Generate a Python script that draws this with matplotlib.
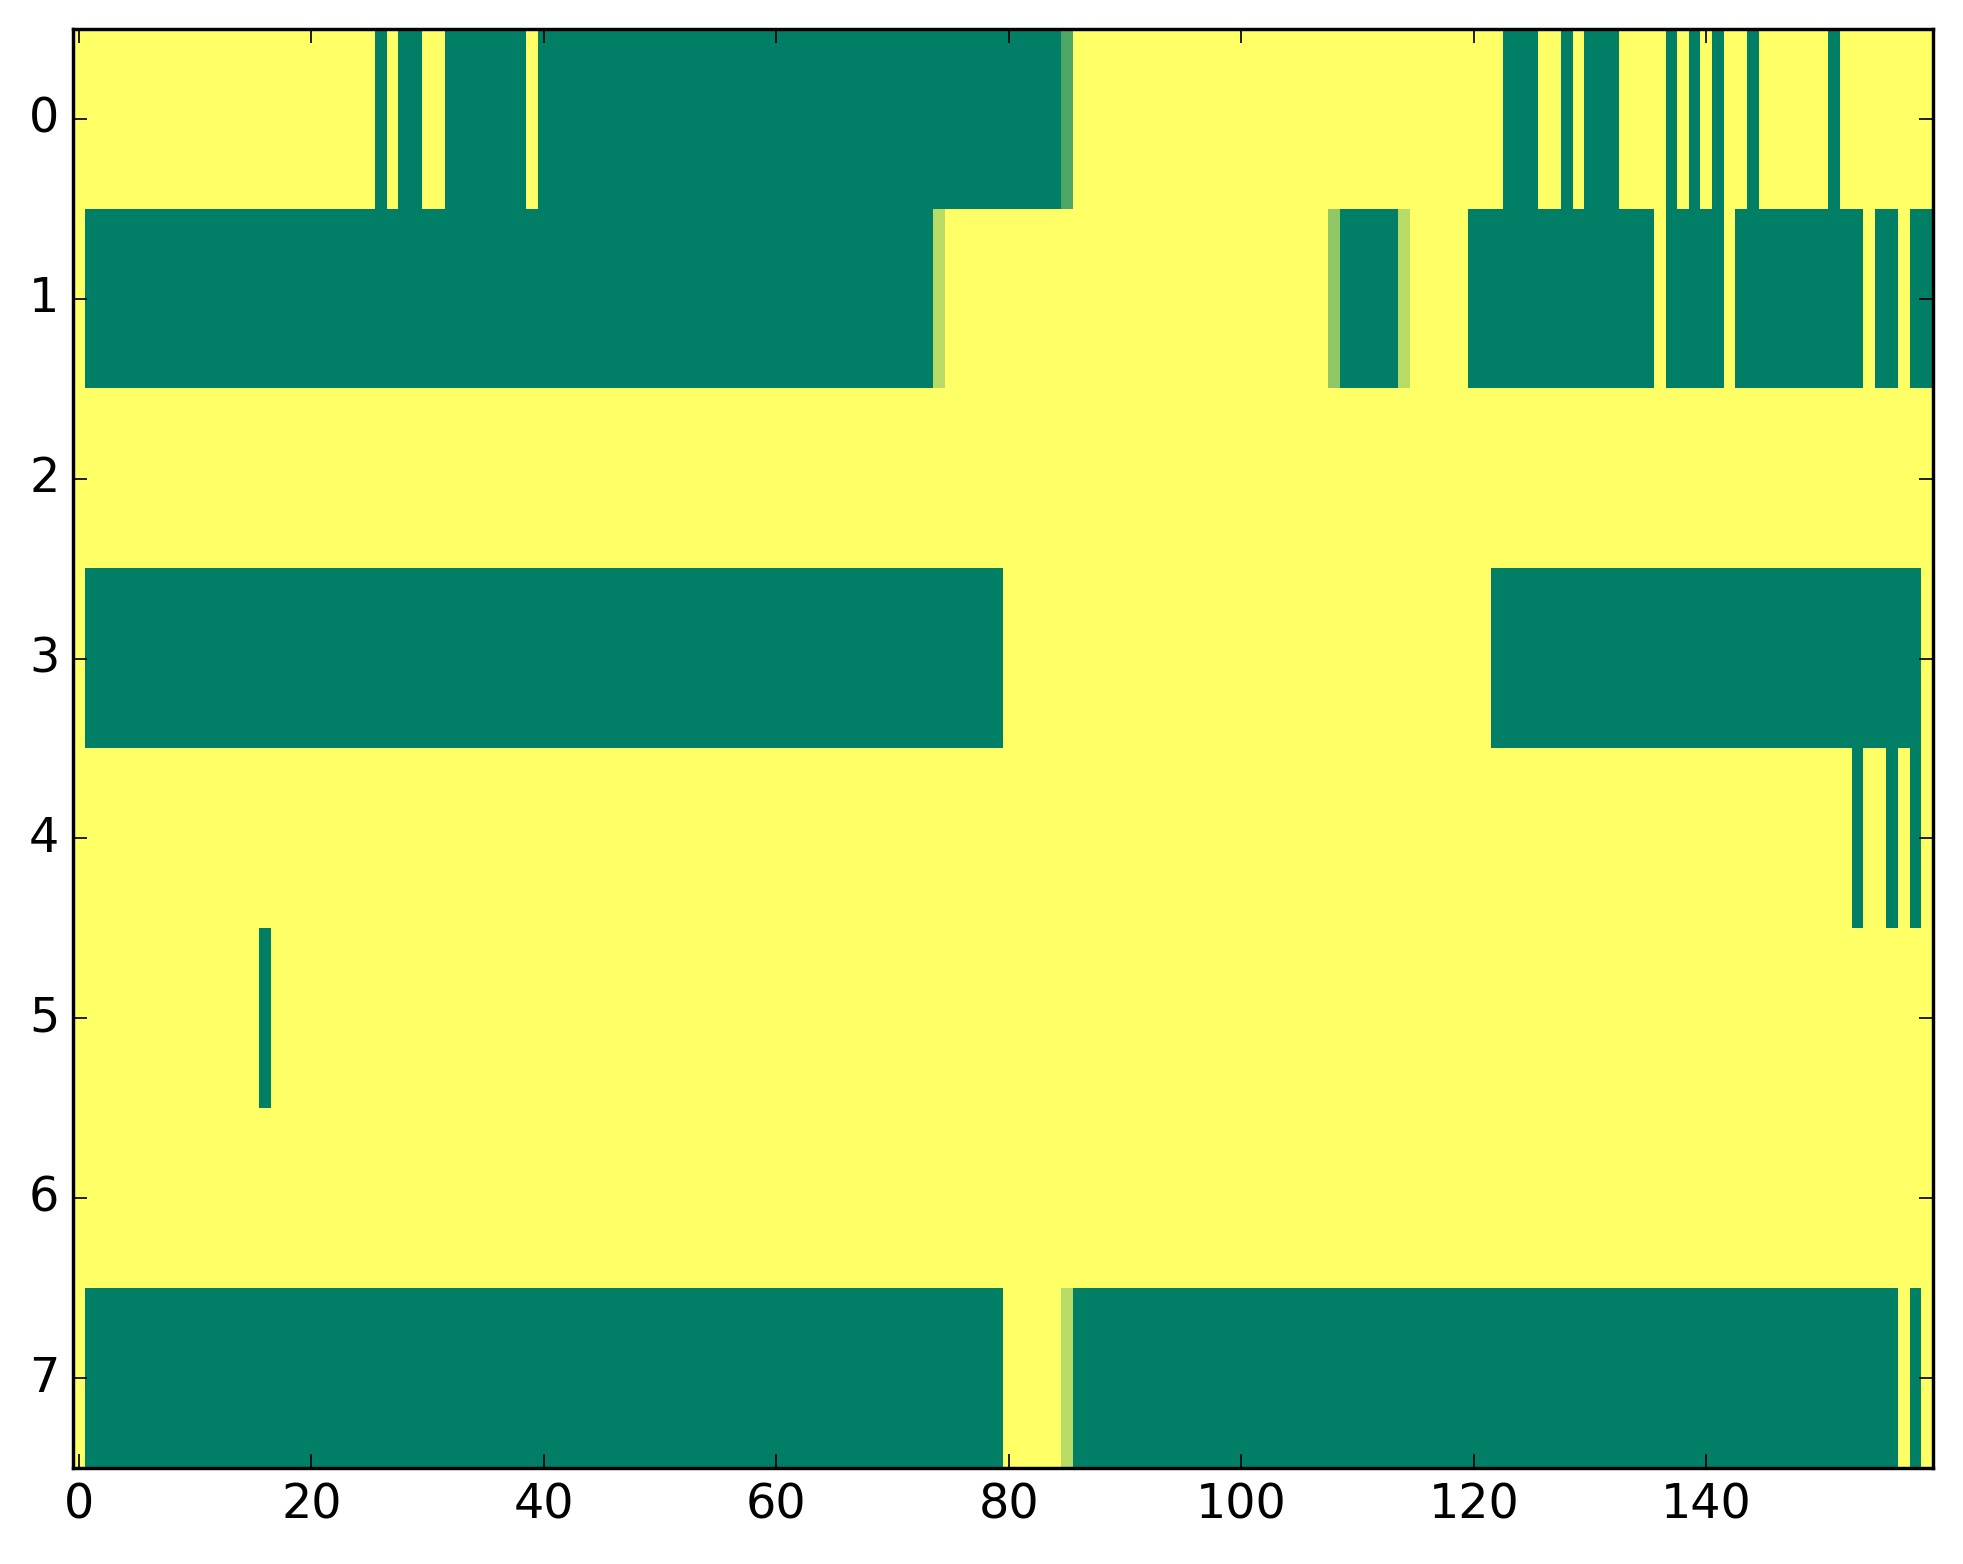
import numpy as np
import matplotlib
matplotlib.use("Agg")
import matplotlib.pyplot as plt

# Each row as run-length pairs (value, count)
row0 = [(1, 26), (0, 1), (1, 1), (0, 2), (1, 2), (0, 7), (1, 1), (0, 45), (0.31, 1),
        (1, 37), (0, 3), (1, 2), (0, 1), (1, 1), (0, 3), (1, 4), (0, 1), (1, 1),
        (0, 1), (1, 1), (0, 1), (1, 2), (0, 1), (1, 6), (0, 1), (1, 8)]
row1 = [(1, 1), (0, 73), (0.72, 1), (1, 33), (0.57, 1), (0, 5), (0.72, 1), (1, 5),
        (0, 16), (1, 1), (0, 5), (1, 1), (0, 11), (1, 1), (0, 2), (1, 1), (0, 2)]
row2 = [(1, 160)]
row3 = [(1, 1), (0, 79), (1, 42), (0, 37), (1, 1)]
row4 = [(1, 153), (0, 1), (1, 2), (0, 1), (1, 1), (0, 1), (1, 1)]
row5 = [(1, 16), (0, 1), (1, 143)]
row6 = [(1, 160)]
row7 = [(1, 1), (0, 79), (1, 5), (0.72, 1), (0, 71), (1, 1), (0, 1), (1, 1)]

xticks = [0, 20, 40, 60, 80, 100, 120, 140]
yticks = [0, 1, 2, 3, 4, 5, 6, 7]

rows = [row0, row1, row2, row3, row4, row5, row6, row7]
data = np.array([[v for v, n in r for _ in range(n)] for r in rows], dtype=float)

plt.style.use("classic")
fig = plt.figure(figsize=(1963 / 245, 1564 / 245), dpi=245)
ax = fig.add_axes([73 / 1963, 1 - 1468 / 1564, (1933 - 73) / 1963, (1468 - 29) / 1564])
ax.imshow(data, cmap="summer", vmin=0, vmax=1, aspect="auto", interpolation="nearest")
ax.set_xticks(xticks)
ax.set_yticks(yticks)
ax.tick_params(labelsize=14)
ax.set_xlim(-0.5, 159.5)
ax.set_ylim(7.5, -0.5)
fig.savefig("out.png", dpi=245)
